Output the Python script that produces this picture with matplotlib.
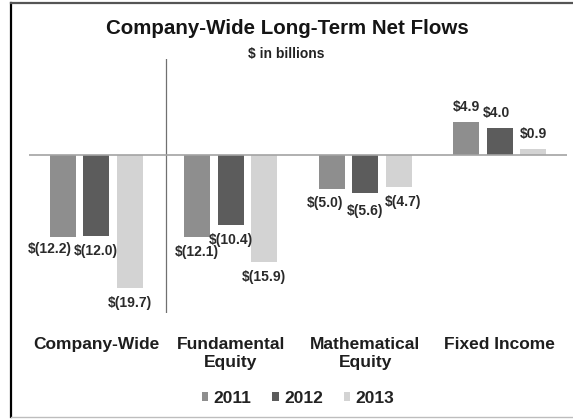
import numpy as np
import matplotlib
matplotlib.use("Agg")
import matplotlib.pyplot as plt
from matplotlib.patches import Patch
from matplotlib.lines import Line2D

plt.rcParams['font.family'] = ['Liberation Sans', 'DejaVu Sans']

# ----------------------------
# Datos ($ en miles de millones)
# ----------------------------
categorias = ["Company-Wide", "Fundamental\nEquity", "Mathematical\nEquity", "Fixed Income"]
anios = ["2011", "2012", "2013"]
flujos_2011 = [-12.2, -12.1, -5.0, 4.9]
flujos_2012 = [-12.0, -10.4, -5.6, 4.0]
flujos_2013 = [-19.7, -15.9, -4.7, 0.9]

colores = ["#8e8e8e", "#5c5c5c", "#d3d3d3"]

# ajustes a mano de algunas etiquetas (px): (dx, distancia extra)
ajustes = {(0, 0): (-13, -3), (2, 0): (-7, -1), (2, 1): (0, 3), (2, 2): (4, 0),
           (3, 1): (-3, 0)}

DPI = 100
fig = plt.figure(figsize=(5.73, 4.19), dpi=DPI)
W, H = 573, 419

def px_x(x):
    return x / W

def px_y(y):
    return 1 - y / H

# area de trazado: x 29..567 px, y 59..313 px
ax = fig.add_axes([px_x(29), px_y(313), px_x(567) - px_x(29), px_y(59) - px_y(313)])
ax.set_xlim(-0.5, 3.5)
ax.set_ylim(-23.4, 14.2)

x = np.arange(len(categorias))
ancho = 0.195
paso = 0.249
series = [flujos_2011, flujos_2012, flujos_2013]

for i, (vals, color, anio) in enumerate(zip(series, colores, anios)):
    pos = x + (i - 1) * paso
    ax.bar(pos, vals, width=ancho, color=color, label=anio, zorder=2)
    for j, v in enumerate(vals):
        dx, extra = ajustes.get((j, i), (0, 0))
        dist = 15 + extra
        dy = dist if v > 0 else -dist
        txt = f"${v:.1f}" if v >= 0 else f"$({-v:.1f})"
        ax.annotate(txt, (pos[j], v), xytext=(dx * 72 / DPI, dy * 72 / DPI),
                    textcoords="offset points", ha="center", va="center",
                    fontsize=10, fontweight="bold", color="#2a2a2a")

ax.axhline(0, color="#a3a3a3", lw=1.2, zorder=3)
ax.axvline(0.52, color="#707070", lw=0.9, zorder=1)

for s in ax.spines.values():
    s.set_visible(False)
ax.set_yticks([])
ax.set_xticks(x)
ax.set_xticklabels(categorias, fontsize=12.5, fontweight="bold", color="#1e1e1e",
                   linespacing=1.3)
ax.tick_params(axis="x", length=0, pad=17)

fig.text(px_x(287), px_y(29), "Company-Wide Long-Term Net Flows", ha="center",
         va="center", fontsize=14.8, fontweight="bold", color="#151515")
fig.text(px_x(286), px_y(54), "$ in billions", ha="center", va="center",
         fontsize=10, fontweight="bold", color="#222222")

handles = [Patch(facecolor=c, edgecolor="none") for c in colores]
fig.legend(handles, anios, loc="center", bbox_to_anchor=(px_x(298), px_y(398)),
           ncol=3, frameon=False, handlelength=0.38, handleheight=0.38,
           handletextpad=0.3, columnspacing=1.2,
           prop={"size": 12.5, "weight": "bold"}, labelcolor="#222222")

# marco de la figura
fig.add_artist(Line2D([px_x(11), px_x(11)], [px_y(3), px_y(417)], color="black", lw=1.6))
fig.add_artist(Line2D([px_x(11), 1], [px_y(3), px_y(3)], color="#555555", lw=1.6))
fig.add_artist(Line2D([px_x(11), 1], [px_y(417), px_y(417)], color="#bdbdbd", lw=1.0))

fig.savefig("out.png", dpi=DPI)
